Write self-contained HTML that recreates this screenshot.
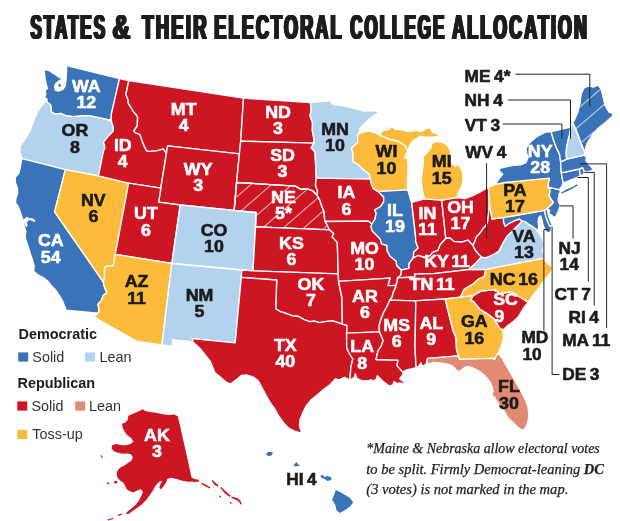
<!DOCTYPE html>
<html><head><meta charset="utf-8"><title>States &amp; their Electoral College allocation</title>
<style>
html,body{margin:0;padding:0;background:#fff;}
body{width:620px;height:521px;overflow:hidden;font-family:"Liberation Sans",sans-serif;}
svg{display:block}
.st path{stroke:#fff;stroke-width:1.35;stroke-linejoin:round}
.lb{font-family:"Liberation Sans",sans-serif;font-weight:bold;font-size:16.5px;text-anchor:middle}
.lb text{transform-box:fill-box;transform-origin:center;transform:scaleX(1.08);word-spacing:-2.2px;stroke-width:0.55px;stroke-linejoin:round}
.lbs text{transform-origin:left;transform:scaleX(1.05);word-spacing:-1.2px}
.w{fill:#fff;stroke:#fff}.k{fill:#1c1a1a;stroke:#1c1a1a}
</style></head><body>
<svg width="620" height="521" viewBox="0 0 620 521">
<defs>
<filter id="embolden" x="-2%" y="-10%" width="104%" height="120%">
<feOffset in="SourceGraphic" dx="-1.3" result="a"/><feOffset in="SourceGraphic" dx="-0.65" result="b"/><feOffset in="SourceGraphic" dx="0.65" result="c"/><feOffset in="SourceGraphic" dx="1.3" result="d"/>
<feMerge><feMergeNode in="a"/><feMergeNode in="b"/><feMergeNode in="SourceGraphic"/><feMergeNode in="c"/><feMergeNode in="d"/></feMerge></filter>
<pattern id="hNE" width="13.5" height="20" patternUnits="userSpaceOnUse" patternTransform="translate(240.5,210.8) rotate(49)"><line x1="0.5" y1="-1" x2="0.5" y2="21" stroke="#fff" stroke-opacity="0.8" stroke-width="0.9"/></pattern>
<pattern id="hME" width="14" height="20" patternUnits="userSpaceOnUse" patternTransform="translate(576.7,127.4) rotate(49.4)"><line x1="0.5" y1="-1" x2="0.5" y2="21" stroke="#fff" stroke-opacity="0.8" stroke-width="0.9"/></pattern>
</defs>
<rect width="620" height="521" fill="#fff"/>
<g class="st">
<path id="WA" d="M66.6,65.5L66.6,69.8L66.3,75.2L66.0,80.5L65.2,86.2L62.9,89.4L58.5,91.0L55.3,90.0L54.5,87.0L55.8,83.5L59.3,80.8L62.7,78.9L58.9,77.2L54.2,73.8L48.8,70.5L44.1,69.1L44.5,73.8L45.1,79.2L46.1,83.9L47.5,88.6L45.1,90.6L45.9,94.0L44.5,97.4L46.8,99.1L46.8,102.1L50.4,104.5L51.3,108.8L50.9,111.7L55.1,114.2L60.7,113.4L66.5,116.0L73.9,116.6L83.9,115.6L90.2,115.9L111.2,120.5L111.3,114.4L119.5,78.6L66.6,65.5Z" fill="#3b73b9"/>
<path id="OR" d="M46.8,99.1L46.8,102.1L50.4,104.5L51.3,108.8L50.9,111.7L55.1,114.2L60.7,113.4L66.5,116.0L73.9,116.6L83.9,115.6L90.2,115.9L111.2,120.5L113.2,126.7L113.3,131.1L108.6,135.9L103.5,142.1L104.5,145.2L104.8,148.9L103.5,150.8L98.4,175.8L65.3,169.6L21.8,158.6L19.9,152.3L20.3,145.8L25.4,138.7L29.9,130.9L34.1,120.0L38.2,110.6L46.8,99.1Z" fill="#b3d2ee"/>
<path id="CA" d="M21.8,158.6L65.3,169.6L54.6,211.8L103.2,281.8L104.8,288.0L106.9,292.8L103.4,295.1L101.2,300.6L97.9,304.4L99.2,310.6L97.9,313.1L66.2,310.2L64.3,305.4L62.4,300.6L59.5,295.8L55.7,290.1L51.8,286.2L48.0,281.4L43.2,277.6L37.4,274.7L33.6,270.9L34.2,266.1L32.6,260.3L30.7,254.6L28.8,248.8L26.9,243.0L25.0,237.3L25.9,231.5L24.0,225.8L23.9,221.2L22.2,217.8L20.2,211.8L18.2,206.4L15.5,203.0L15.9,198.3L17.7,193.6L17.5,188.2L15.5,182.9L15.1,177.5L18.8,173.4L20.2,168.1L21.5,160.0L21.8,158.6Z" fill="#3b73b9"/>
<path id="NV" d="M65.3,169.6L98.4,175.8L128.6,183.2L115.3,254.4L113.2,265.9L109.0,265.8L104.7,266.9L104.5,271.7L104.4,279.1L103.2,281.8L54.6,211.8L65.3,169.6Z" fill="#fcbb3a"/>
<path id="ID" d="M119.5,78.6L111.3,114.4L111.2,120.5L113.2,126.7L113.3,131.1L108.6,135.9L103.5,142.1L104.5,145.2L104.8,148.9L103.5,150.8L98.4,175.8L128.6,183.2L160.8,188.1L166.4,153.3L163.4,148.8L156.8,150.6L148.2,151.4L146.3,150.3L142.9,143.1L139.9,134.4L135.5,132.8L133.8,131.0L137.3,125.9L137.6,116.5L133.9,112.1L128.5,103.7L127.9,99.2L125.8,94.5L128.8,80.6L119.5,78.6Z" fill="#cc1624"/>
<path id="MT" d="M128.8,80.6L125.8,94.5L127.9,99.2L128.5,103.7L133.9,112.1L137.6,116.5L137.3,125.9L133.8,131.0L135.5,132.8L139.9,134.4L142.9,143.1L146.3,150.3L148.2,151.4L156.8,150.6L163.4,148.8L166.4,153.3L167.6,145.8L239.4,153.8L240.7,141.1L243.5,98.2L128.8,80.6Z" fill="#cc1624"/>
<path id="WY" d="M167.6,145.8L239.4,153.8L236.6,182.5L234.2,210.4L180.2,205.0L158.7,202.2L160.8,188.1L166.4,153.3L167.6,145.8Z" fill="#cc1624"/>
<path id="UT" d="M128.6,183.2L160.8,188.1L158.7,202.2L180.2,205.0L171.8,263.5L115.3,254.4L128.6,183.2Z" fill="#cc1624"/>
<path id="AZ" d="M115.3,254.4L171.8,263.5L161.9,344.8L137.0,341.3L94.1,317.0L97.9,313.1L99.2,310.6L97.9,304.4L101.2,300.6L103.4,295.1L106.9,292.8L104.8,288.0L103.2,281.8L104.4,279.1L104.5,271.7L104.7,266.9L109.0,265.8L113.2,265.9L115.3,254.4Z" fill="#fcbb3a"/>
<path id="CO" d="M180.2,205.0L234.2,210.4L256.3,212.5L255.5,226.9L253.0,270.9L241.9,270.0L171.8,263.5L180.2,205.0Z" fill="#b3d2ee"/>
<path id="NM" d="M171.8,263.5L241.9,270.0L241.3,277.4L235.2,342.9L192.3,338.7L193.0,342.0L172.8,339.7L172.0,346.1L161.9,344.8L171.8,263.5Z" fill="#b3d2ee"/>
<path id="ND" d="M243.5,98.2L310.4,102.6L311.2,109.3L310.1,115.9L312.5,122.5L312.3,130.4L313.8,138.4L314.0,143.2L240.7,141.1L243.5,98.2Z" fill="#cc1624"/>
<path id="SD" d="M240.7,141.1L314.0,143.2L311.1,147.8L315.1,152.0L316.2,178.2L315.5,185.0L317.5,191.1L317.3,195.5L312.7,191.0L307.3,188.7L301.0,189.5L295.5,186.1L236.6,182.5L239.4,153.8L240.7,141.1Z" fill="#cc1624"/>
<path id="NE" d="M236.6,182.5L295.5,186.1L301.0,189.5L307.3,188.7L312.7,191.0L317.3,195.5L319.7,199.8L322.0,206.7L324.2,212.0L324.6,218.6L325.3,221.5L327.3,225.5L329.5,229.8L255.5,226.9L256.3,212.5L234.2,210.4L236.6,182.5Z" fill="#cc1624"/>
<path d="M236.6,182.5L295.5,186.1L301.0,189.5L307.3,188.7L312.7,191.0L317.3,195.5L319.7,199.8L322.0,206.7L324.2,212.0L324.6,218.6L325.3,221.5L327.3,225.5L329.5,229.8L255.5,226.9L256.3,212.5L234.2,210.4L236.6,182.5Z" fill="url(#hNE)" stroke="none"/>
<path id="KS" d="M255.5,226.9L329.5,229.8L333.8,233.4L332.2,236.9L337.3,242.4L338.2,273.9L253.0,270.9L255.5,226.9Z" fill="#cc1624"/>
<path id="OK" d="M253.0,270.9L338.2,273.9L338.6,281.4L341.9,297.8L342.4,324.2L332.8,320.8L326.8,321.3L319.5,322.7L314.6,321.1L309.7,321.7L303.6,319.3L298.7,316.5L292.6,315.8L285.3,313.2L280.5,311.7L275.7,308.7L276.7,280.0L241.3,277.4L241.9,270.0L253.0,270.9Z" fill="#cc1624"/>
<path id="TX" d="M241.3,277.4L276.7,280.0L275.7,308.7L280.5,311.7L285.3,313.2L292.6,315.8L298.7,316.5L303.6,319.3L309.7,321.7L314.6,321.1L319.5,322.7L326.8,321.3L332.8,320.8L342.4,324.2L347.1,325.3L346.6,333.1L346.7,347.5L349.0,353.0L352.8,359.0L350.9,366.8L350.4,373.9L349.7,380.1L344.5,377.3L339.4,379.9L335.5,378.8L330.3,384.5L323.9,389.2L317.4,394.8L311.0,400.0L305.8,406.5L302.7,412.9L300.1,419.4L299.4,425.8L301.9,433.5L295.5,431.5L289.0,428.4L283.9,423.2L278.7,416.0L274.8,409.0L270.2,402.6L265.8,394.8L261.9,387.6L258.1,380.6L252.9,376.8L246.5,375.0L241.3,375.5L236.1,379.9L230.5,384.0L225.8,381.9L220.6,377.3L215.0,372.9L212.4,366.5L210.3,361.3L205.2,354.8L200.0,348.4L193.0,342.0L192.3,338.7L235.2,342.9L241.3,277.4Z" fill="#cc1624"/>
<path id="MN" d="M310.4,102.6L317.7,101.9L326.8,101.2L329.4,100.1L333.2,104.5L343.5,105.8L353.9,108.4L364.2,111.0L373.2,110.5L379.7,112.3L373.2,116.1L366.8,121.3L360.3,127.7L358.5,133.8L357.6,134.8L357.7,142.6L351.5,148.0L353.2,153.7L352.9,161.5L358.3,164.5L363.2,169.5L369.3,174.3L370.6,179.1L316.2,178.2L315.1,152.0L311.1,147.8L314.0,143.2L313.8,138.4L312.3,130.4L312.5,122.5L310.1,115.9L311.2,109.3L310.4,102.6Z" fill="#b3d2ee"/>
<path id="IA" d="M316.2,178.2L370.6,179.1L371.4,184.3L373.5,188.7L378.3,191.6L383.8,197.2L383.6,201.8L380.7,206.5L374.5,210.1L376.2,213.0L375.0,219.2L371.8,224.2L368.5,221.1L325.3,221.5L324.6,218.6L324.2,212.0L322.0,206.7L319.7,199.8L317.3,195.5L317.5,191.1L315.5,185.0L316.2,178.2Z" fill="#cc1624"/>
<path id="MO" d="M325.3,221.5L368.5,221.1L371.8,224.2L371.0,226.9L372.4,231.1L380.1,238.9L381.6,243.9L386.9,245.4L387.3,250.9L390.1,256.2L396.3,261.3L396.7,265.6L401.4,270.0L400.9,275.2L397.5,277.8L397.3,281.6L395.8,285.4L387.9,285.6L390.0,278.1L338.6,281.4L338.2,273.9L337.3,242.4L332.2,236.9L333.8,233.4L329.5,229.8L327.3,225.5L325.3,221.5Z" fill="#cc1624"/>
<path id="AR" d="M338.6,281.4L390.0,278.1L387.9,285.6L395.8,285.4L395.9,286.9L393.4,292.0L392.0,297.2L389.8,300.2L387.0,306.5L383.4,313.0L380.9,319.4L379.1,325.7L379.5,331.8L346.6,333.1L347.1,325.3L342.4,324.2L341.9,297.8L338.6,281.4Z" fill="#cc1624"/>
<path id="LA" d="M346.6,333.1L379.5,331.8L383.2,340.5L381.2,346.0L378.1,350.8L377.2,354.1L376.0,359.5L397.9,360.2L397.1,365.6L402.6,371.9L403.5,372.9L402.0,375.8L399.7,378.7L403.2,381.6L404.5,384.9L400.6,383.0L396.8,383.5L393.9,381.6L392.9,384.9L389.0,386.1L386.1,383.5L383.2,381.6L380.3,378.7L377.4,375.8L376.4,378.7L373.5,381.6L371.6,379.7L367.7,381.0L361.9,380.6L357.1,378.7L355.2,373.9L354.2,377.7L349.7,380.1L350.4,373.9L350.9,366.8L352.8,359.0L349.0,353.0L346.7,347.5L346.6,333.1Z" fill="#cc1624"/>
<path id="WI" d="M358.5,133.8L368.4,130.9L375.2,132.8L380.0,135.2L388.7,139.0L398.4,141.4L405.2,145.8L408.1,151.0L405.7,154.9L404.6,158.4L407.3,157.6L407.9,162.3L408.1,173.9L407.1,183.5L407.7,189.8L378.3,191.6L373.5,188.7L371.4,184.3L370.6,179.1L369.3,174.3L363.2,169.5L358.3,164.5L352.9,161.5L353.2,153.7L351.5,148.0L357.7,142.6L357.6,134.8L358.5,133.8Z" fill="#fcbb3a"/>
<path id="IL" d="M378.3,191.6L407.7,189.8L410.7,200.1L411.7,202.3L415.6,236.4L415.7,241.2L418.1,248.0L413.7,252.2L413.3,257.8L409.1,263.5L408.9,268.4L401.4,270.0L396.7,265.6L396.3,261.3L390.1,256.2L387.3,250.9L386.9,245.4L381.6,243.9L380.1,238.9L372.4,231.1L371.0,226.9L371.8,224.2L375.0,219.2L376.2,213.0L374.5,210.1L380.7,206.5L383.6,201.8L383.8,197.2L378.3,191.6Z" fill="#3b73b9"/>
<path id="IN" d="M411.7,202.3L424.5,198.8L441.7,200.2L445.8,238.5L440.3,244.5L438.0,250.3L432.7,252.3L430.0,255.9L424.4,257.5L418.3,255.5L413.3,257.8L413.7,252.2L418.1,248.0L415.7,241.2L415.6,236.4L411.7,202.3Z" fill="#cc1624"/>
<path id="OH" d="M441.7,200.2L457.0,197.5L465.2,198.7L471.6,196.1L479.4,192.3L488.4,187.1L489.3,202.5L488.7,212.0L487.6,221.8L485.9,225.7L483.1,228.5L479.7,233.6L476.3,237.0L474.6,242.1L472.9,245.2L468.0,240.2L461.7,242.2L454.2,241.5L449.5,237.9L445.8,238.5L441.7,200.2Z" fill="#cc1624"/>
<path id="KY" d="M413.3,257.8L418.3,255.5L424.4,257.5L430.0,255.9L432.7,252.3L438.0,250.3L440.3,244.5L445.8,238.5L449.5,237.9L454.2,241.5L461.7,242.2L468.0,240.2L472.9,245.2L475.2,250.0L478.5,254.0L481.5,257.0L476.2,262.8L468.9,269.5L433.9,273.7L414.5,274.2L415.0,277.0L397.5,277.8L400.9,275.2L401.4,270.0L408.9,268.4L409.1,263.5L413.3,257.8Z" fill="#cc1624"/>
<path id="TN" d="M397.5,277.8L415.0,277.0L414.5,274.2L433.9,273.7L468.9,269.5L485.9,269.3L484.1,276.9L478.8,278.8L473.1,284.0L464.4,289.0L460.4,297.1L445.1,299.0L414.5,300.8L389.8,300.2L392.0,297.2L393.4,292.0L395.9,286.9L395.8,285.4L397.3,281.6L397.5,277.8Z" fill="#cc1624"/>
<path id="MS" d="M389.8,300.2L414.5,300.8L415.8,302.4L415.0,347.4L416.1,367.7L411.3,369.0L406.4,370.0L402.6,371.9L397.1,365.6L397.9,360.2L376.0,359.5L377.2,354.1L378.1,350.8L381.2,346.0L383.2,340.5L379.5,331.8L379.1,325.7L380.9,319.4L383.4,313.0L387.0,306.5L389.8,300.2Z" fill="#cc1624"/>
<path id="AL" d="M414.5,300.8L445.1,299.0L453.0,330.5L456.1,338.3L456.5,349.4L458.3,355.9L427.5,358.3L426.8,362.8L424.8,365.2L422.1,366.1L421.0,362.8L419.0,366.1L416.1,367.7L415.0,347.4L415.8,302.4L414.5,300.8Z" fill="#cc1624"/>
<path id="GA" d="M445.1,299.0L460.4,297.1L473.3,295.4L470.8,300.4L473.6,301.5L479.7,309.0L487.9,314.1L494.6,319.3L499.4,327.7L502.9,330.0L503.5,338.1L501.5,345.8L498.4,353.2L496.4,355.5L494.5,359.4L492.6,358.4L459.7,359.4L458.3,355.9L456.5,349.4L456.1,338.3L453.0,330.5L445.1,299.0Z" fill="#fcbb3a"/>
<path id="FL" d="M426.8,362.8L427.5,358.3L458.3,355.9L459.7,359.4L492.6,358.4L494.5,359.4L496.4,355.5L498.4,353.2L502.3,358.4L506.1,365.2L510.0,371.9L513.9,378.7L517.7,385.5L521.6,392.3L525.5,400.0L528.0,406.8L528.8,413.5L528.4,419.3L526.8,425.2L524.5,429.4L521.6,430.0L518.7,428.1L515.8,425.2L512.9,422.3L509.4,419.3L507.1,416.4L505.2,412.6L502.3,408.7L499.3,404.8L496.4,401.0L494.5,397.1L491.6,395.2L493.2,391.3L492.0,386.4L489.7,381.6L486.8,377.7L482.9,373.9L478.1,370.6L473.2,368.1L469.4,366.7L465.5,367.1L462.6,369.0L459.7,371.4L456.8,371.0L454.8,368.1L451.0,365.2L445.2,363.6L439.4,362.8L433.5,362.3L429.3,364.2L426.8,362.8Z" fill="#e18a74"/>
<path id="SC" d="M473.3,295.4L480.8,291.2L495.1,289.6L495.3,291.0L496.5,290.1L498.8,293.7L511.6,291.7L528.1,302.3L524.2,307.1L521.3,311.9L518.4,316.8L514.5,320.6L510.6,323.5L506.8,326.4L502.9,330.0L499.4,327.7L494.6,319.3L487.9,314.1L479.7,309.0L473.6,301.5L470.8,300.4L473.3,295.4Z" fill="#cc1624"/>
<path id="NC" d="M544.3,258.1L485.9,269.3L484.1,276.9L478.8,278.8L473.1,284.0L464.4,289.0L460.4,297.1L473.3,295.4L480.8,291.2L495.1,289.6L495.3,291.0L496.5,290.1L498.8,293.7L511.6,291.7L528.1,302.3L532.3,296.0L537.8,289.5L543.5,281.5L546.5,277.4L550.6,272.6L552.6,266.8L547.7,263.9L544.8,260.4L544.3,258.1Z" fill="#fcbb3a"/>
<path id="VA" d="M544.3,258.1L485.9,269.3L468.9,269.5L476.2,262.8L481.5,257.0L485.3,257.9L489.8,256.2L494.4,254.0L498.9,251.1L501.1,246.6L504.0,241.0L506.8,236.5L510.2,233.1L514.7,228.5L518.1,225.2L522.2,220.8L525.7,221.8L528.6,224.2L533.4,227.1L536.3,229.5L537.4,231.5L539.0,232.9L542.3,238.7L544.3,244.9L542.3,250.7L544.8,255.2L544.3,258.1Z" fill="#b3d2ee"/>
<path id="WV" d="M489.3,202.5L492.0,219.0L503.9,217.4L503.4,221.2L505.1,226.3L509.0,223.5L514.7,220.6L519.2,219.0L522.2,220.8L518.1,225.2L514.7,228.5L510.2,233.1L506.8,236.5L504.0,241.0L501.1,246.6L498.9,251.1L494.4,254.0L489.8,256.2L485.3,257.9L481.5,257.0L478.5,254.0L475.2,250.0L472.9,245.2L474.6,242.1L476.3,237.0L479.7,233.6L483.1,228.5L485.9,225.7L487.6,221.8L488.7,212.0L489.3,202.5Z" fill="#cc1624"/>
<path id="MD" d="M503.9,217.4L544.5,210.4L545.8,216.5L547.7,221.6L549.7,226.1L552.3,225.5L551.6,227.4L551.0,231.3L548.4,233.2L545.8,231.3L543.9,227.4L542.6,223.5L541.9,219.0L540.6,215.8L538.7,217.7L538.1,222.3L538.7,227.4L537.4,231.5L536.3,229.5L533.4,227.1L528.6,224.2L525.7,221.8L522.2,220.8L519.2,219.0L514.7,220.6L509.0,223.5L505.1,226.3L503.4,221.2L503.9,217.4Z" fill="#3b73b9"/>
<path id="DE" d="M552.3,225.5L549.7,226.1L547.7,221.6L545.8,216.5L544.5,210.4L547.5,208.3L548.0,213.9L549.0,217.7L551.0,222.3L552.3,225.5Z" fill="#3b73b9"/>
<path id="PA" d="M495.4,184.4L488.4,187.1L489.3,202.5L492.0,219.0L503.9,217.4L544.5,210.4L547.5,208.3L551.6,204.8L553.5,202.3L551.0,199.0L549.0,195.2L550.3,191.3L548.4,187.1L548.4,183.7L549.5,178.2L504.8,182.5L495.4,184.4Z" fill="#fcbb3a"/>
<path id="NJ" d="M548.4,187.1L559.1,189.7L560.6,191.0L558.7,195.2L558.1,200.3L560.0,205.5L558.7,210.6L556.1,215.8L554.8,217.7L551.6,215.2L548.8,213.5L549.7,210.6L547.5,208.3L551.6,204.8L553.5,202.3L551.0,199.0L549.0,195.2L550.3,191.3L548.4,187.1Z" fill="#3b73b9"/>
<path id="NY" d="M495.4,184.4L499.0,178.6L502.7,174.3L499.8,171.4L499.0,168.5L504.8,167.0L512.1,165.6L520.8,164.8L525.9,162.7L528.1,157.6L526.6,153.2L525.9,148.9L528.1,144.5L532.4,140.2L538.2,135.8L545.5,132.2L551.2,131.6L553.3,139.6L556.5,148.1L559.6,154.4L560.6,161.8L561.3,172.9L563.2,183.2L561.5,187.0L559.1,189.7L548.4,187.1L548.4,183.7L549.5,178.2L504.8,182.5L495.4,184.4Z" fill="#3b73b9"/>
<path id="CT" d="M561.3,172.9L579.4,169.0L580.3,175.5L577.4,177.4L571.0,180.0L563.2,183.2L561.3,172.9Z" fill="#3b73b9"/>
<path id="RI" d="M579.4,169.0L582.6,167.7L583.9,171.0L583.2,174.8L580.3,175.5L579.4,169.0Z" fill="#3b73b9"/>
<path id="MA" d="M560.6,161.8L566.7,159.1L584.3,155.2L586.5,157.4L585.8,160.6L588.4,163.9L591.0,166.5L592.9,169.0L596.8,167.7L598.0,167.9L592.9,170.2L589.7,171.2L586.5,171.8L583.9,171.0L582.6,167.7L579.4,169.0L561.3,172.9L560.6,161.8Z" fill="#3b73b9"/>
<path id="VT" d="M551.2,131.6L570.9,127.2L569.8,134.3L568.0,140.6L566.7,147.0L566.1,153.3L566.7,159.1L560.6,161.8L559.6,154.4L556.5,148.1L553.3,139.6L551.2,131.6Z" fill="#3b73b9"/>
<path id="NH" d="M570.9,127.2L572.7,122.5L575.1,128.0L577.7,134.3L580.4,141.7L583.0,148.0L584.9,152.3L584.3,155.2L566.7,159.1L566.1,153.3L566.7,147.0L568.0,140.6L569.8,134.3L570.9,127.2Z" fill="#b3d2ee"/>
<path id="ME" d="M572.7,122.5L574.5,119.6L577.6,112.2L579.7,103.8L581.2,93.2L583.9,87.9L588.1,85.8L593.4,86.9L597.6,84.8L600.8,87.9L602.9,95.3L605.0,104.8L609.2,112.2L613.5,113.3L612.4,117.5L608.2,120.7L604.0,124.9L599.8,127.0L596.6,131.2L593.4,133.3L590.3,138.6L587.1,143.9L585.0,151.3L584.9,152.3L583.0,148.0L580.4,141.7L577.7,134.3L575.1,128.0L572.7,122.5Z" fill="#3b73b9"/>
<path d="M572.7,122.5L574.5,119.6L577.6,112.2L579.7,103.8L581.2,93.2L583.9,87.9L588.1,85.8L593.4,86.9L597.6,84.8L600.8,87.9L602.9,95.3L605.0,104.8L609.2,112.2L613.5,113.3L612.4,117.5L608.2,120.7L604.0,124.9L599.8,127.0L596.6,131.2L593.4,133.3L590.3,138.6L587.1,143.9L585.0,151.3L584.9,152.3L583.0,148.0L580.4,141.7L577.7,134.3L575.1,128.0L572.7,122.5Z" fill="url(#hME)" stroke="none"/>
<path id="MI1" d="M424.5,198.8L422.6,191.3L421.2,181.6L422.0,171.9L423.5,163.2L423.2,156.4L426.4,153.5L430.3,148.7L432.3,142.9L437.1,141.4L442.9,142.5L447.7,145.8L450.6,151.6L449.7,158.4L451.6,163.2L455.5,166.1L458.4,164.2L461.9,170.0L463.2,177.7L462.3,185.5L458.4,192.3L457.0,197.5L441.7,200.2L424.5,198.8Z" fill="#fcbb3a"/>
<path id="MI2" d="M380.0,135.2L381.9,130.9L389.7,129.0L391.6,125.9L395.5,129.4L401.3,129.7L408.1,131.7L414.8,130.3L421.6,131.3L426.4,128.4L430.3,127.8L432.3,132.3L438.1,134.2L439.0,136.1L433.2,137.1L425.5,137.1L420.6,136.1L415.8,139.0L411.9,141.9L409.0,146.8L408.1,151.0L405.2,145.8L398.4,141.4L388.7,139.0L380.0,135.2Z" fill="#fcbb3a"/>
</g>
<path d="M128.3,415.8L131.3,414.4L137.1,412.1L142.9,409.3L145.2,411.1L149.9,412.1L155.7,412.8L161.5,413.9L168.4,415.1L174.2,414.4L177.7,416.2L180.0,425.5L183.1,439.4L186.3,453.4L189.3,467.3L191.6,477.7L197.4,480.0L200.0,481.4L192.8,481.4L188.2,481.7L182.4,480.7L176.6,478.9L170.8,477.7L167.3,478.9L166.1,482.4L163.8,486.3L160.8,489.3L159.2,487.7L160.8,483.5L162.2,480.7L159.2,481.7L155.7,485.4L152.9,490.5L149.9,495.1L145.9,500.2L141.8,504.4L137.1,507.9L132.5,510.9L129.0,513.7L125.5,514.2L127.4,511.8L131.3,508.6L136.0,504.4L139.4,499.8L141.8,495.1L142.9,491.6L140.6,489.3L137.1,490.5L133.6,492.3L130.2,491.6L126.7,489.3L125.1,485.8L123.2,482.4L120.4,480.7L117.4,477.7L116.7,473.1L118.1,469.6L120.9,467.3L124.4,465.4L127.8,463.1L131.3,460.8L132.9,457.5L131.3,454.5L127.8,453.4L123.2,453.8L119.0,452.9L114.4,451.5L111.6,448.7L112.1,445.2L116.2,444.1L122.0,445.2L126.7,445.2L131.3,443.6L133.6,441.3L131.3,438.3L127.4,435.3L124.4,431.3L122.7,427.4L122.0,423.7L125.1,422.7L127.8,419.7ZM113.9,481.2L116.7,480.7L117.6,483.1L114.8,483.8ZM107.0,482.4L109.3,482.6L109.3,484.2L107.2,484.0ZM100.7,454.8L102.1,455.7L102.8,458.5L101.6,458.0ZM117.4,515.1L121.3,513.5L122.3,514.6L118.6,516.0ZM107.0,519.7L112.8,517.9L113.9,518.8L108.4,520.6ZM192.7,480.3L199.2,479.5L198.4,481.6L193.5,482.3ZM201.6,482.7L205.6,484.4L210.5,487.6L209.7,488.5L204.8,486.1L201.3,484.0ZM212.1,479.5L214.5,481.9L218.5,485.2L217.7,486.8L214.2,484.4L211.8,481.1ZM221.0,486.8L225.8,491.6L230.6,495.6L229.8,496.9L225.0,493.4L220.6,488.2ZM231.5,496.5L237.1,498.1L240.3,500.5L241.9,504.2L240.6,504.5L238.7,501.5L235.5,499.5L231.5,497.9ZM219.4,495.6L221.0,496.0L221.0,497.4L219.5,497.3ZM229.8,502.1L231.5,502.3L231.5,503.7L230.0,503.5Z" fill="#cc1624"/>
<path d="M266.0,453.7L268.6,451.7L272.7,452.2L272.2,454.8L269.6,456.3L267.0,455.3ZM293.9,464.8L296.5,462.0L298.0,464.1L300.1,466.6L297.0,466.1L294.4,466.6ZM320.2,475.4L322.8,474.9L324.8,477.0L327.4,475.9L331.5,477.5L331.0,480.1L327.4,481.1L324.8,479.0L321.7,478.0ZM335.7,489.9L339.0,491.4L344.2,494.5L349.4,497.6L353.2,502.3L350.1,506.4L345.0,510.0L339.8,513.1L336.7,510.5L335.2,504.8L332.1,499.7L334.1,495.0Z" fill="#3b73b9"/>
<path d="M560.6,192.9L565.8,189.7L572.3,187.1L576.8,184.5L578.1,185.2L573.5,188.0L567.7,191.0L561.9,193.5Z" fill="#3b73b9"/>
<path d="M58.2,85.3L59.8,83.5L61.2,85.3L60.3,86.7L58.5,86.5Z" fill="#3b73b9"/>
<path d="M23.9,219.2L26.2,217.1L28.9,217.8L32.9,218.5L35.6,220.5L34.3,222.1L31.6,220.5L28.5,220.2L26.9,222.5L27.6,225.9L26.2,227.2L24.5,224.5L23.9,221.2Z" fill="#fff"/>
<polyline points="515.5,74.2 589.8,74.2 589.8,106.5" fill="none" stroke="#222" stroke-width="1"/>
<polyline points="507.7,100.0 570.5,100.0 570.5,138.7" fill="none" stroke="#222" stroke-width="1"/>
<polyline points="502.6,124.0 561.9,124.0 561.9,138.7" fill="none" stroke="#222" stroke-width="1"/>
<polyline points="486.6,163.2 486.6,238.7" fill="none" stroke="#222" stroke-width="1"/>
<polyline points="559.4,205.9 573.0,205.9 573.0,238.7" fill="none" stroke="#222" stroke-width="1"/>
<polyline points="548.5,229.5 543.9,229.5 543.9,330.6" fill="none" stroke="#222" stroke-width="1"/>
<polyline points="552.1,226.6 552.1,374.5 559.4,374.5" fill="none" stroke="#222" stroke-width="1"/>
<polyline points="577.4,177.5 588.3,177.5 588.3,281.6" fill="none" stroke="#222" stroke-width="1"/>
<polyline points="583.4,172.4 594.2,172.4 594.2,305.6" fill="none" stroke="#222" stroke-width="1"/>
<polyline points="580.0,163.9 606.6,163.9 606.6,328.0" fill="none" stroke="#222" stroke-width="1"/>
<g class="lb">
<text class="w" x="86.3" y="92">WA</text>
<text class="w" x="86.3" y="108.4">12</text>
<text class="k" x="75" y="136.3">OR</text>
<text class="k" x="75" y="152.70000000000002">8</text>
<text class="w" x="50.8" y="246.4">CA</text>
<text class="w" x="50.8" y="262.8">54</text>
<text class="k" x="93.4" y="206">NV</text>
<text class="k" x="93.4" y="222.4">6</text>
<text class="w" x="122.8" y="151">ID</text>
<text class="w" x="122.8" y="167.4">4</text>
<text class="w" x="183.7" y="115">MT</text>
<text class="w" x="183.7" y="131.4">4</text>
<text class="w" x="198.2" y="175">WY</text>
<text class="w" x="198.2" y="191.4">3</text>
<text class="w" x="146" y="219.5">UT</text>
<text class="w" x="146" y="235.9">6</text>
<text class="k" x="136.6" y="287.4">AZ</text>
<text class="k" x="136.6" y="303.79999999999995">11</text>
<text class="k" x="214" y="236">CO</text>
<text class="k" x="214" y="252.4">10</text>
<text class="k" x="199.5" y="300.8">NM</text>
<text class="k" x="199.5" y="317.2">5</text>
<text class="w" x="278" y="118">ND</text>
<text class="w" x="278" y="134.4">3</text>
<text class="w" x="282.5" y="161">SD</text>
<text class="w" x="282.5" y="177.4">3</text>
<text class="w" x="283.5" y="203">NE</text>
<text class="w" x="283.5" y="219.4">5*</text>
<text class="w" x="291.5" y="249">KS</text>
<text class="w" x="291.5" y="265.4">6</text>
<text class="w" x="311" y="290">OK</text>
<text class="w" x="311" y="306.4">7</text>
<text class="w" x="285.3" y="350.7">TX</text>
<text class="w" x="285.3" y="367.09999999999997">40</text>
<text class="k" x="335" y="134.7">MN</text>
<text class="k" x="335" y="151.1">10</text>
<text class="w" x="346.5" y="198.3">IA</text>
<text class="w" x="346.5" y="214.70000000000002">6</text>
<text class="w" x="364.5" y="254">MO</text>
<text class="w" x="364.5" y="270.4">10</text>
<text class="w" x="365" y="301.8">AR</text>
<text class="w" x="365" y="318.2">6</text>
<text class="w" x="362.2" y="352.5">LA</text>
<text class="w" x="362.2" y="368.9">8</text>
<text class="k" x="386.5" y="157.4">WI</text>
<text class="k" x="386.5" y="173.8">10</text>
<text class="w" x="395" y="216">IL</text>
<text class="w" x="395" y="232.4">19</text>
<text class="k" x="441.7" y="167.3">MI</text>
<text class="k" x="441.7" y="183.70000000000002">15</text>
<text class="w" x="427.5" y="219">IN</text>
<text class="w" x="427.5" y="235.4">11</text>
<text class="w" x="460.5" y="213">OH</text>
<text class="w" x="460.5" y="229.4">17</text>
<text class="w" x="447.1" y="267">KY 11</text>
<text class="w" x="432.2" y="290.2">TN 11</text>
<text class="w" x="396.7" y="330.6">MS</text>
<text class="w" x="396.7" y="347.0">6</text>
<text class="w" x="431.3" y="329">AL</text>
<text class="w" x="431.3" y="345.4">9</text>
<text class="k" x="474.3" y="327.5">GA</text>
<text class="k" x="474.3" y="343.9">16</text>
<text class="k" x="513.9" y="284.7">NC 16</text>
<text class="k" x="524" y="242">VA</text>
<text class="k" x="524" y="258.4">13</text>
<text class="k" x="515" y="195.6">PA</text>
<text class="k" x="515" y="212.0">17</text>
<text class="w" x="540.2" y="156.8">NY</text>
<text class="w" x="540.2" y="173.20000000000002">28</text>
<text class="k" x="509" y="392.3">FL</text>
<text class="k" x="509" y="408.7">30</text>
<text class="w" x="157" y="441.1">AK</text>
<text class="w" x="157" y="457.5">3</text>
<text class="w" x="505.6" y="305.2">SC</text><text class="w" x="499.4" y="321.6">9</text>
</g>
<g class="lb lbs" style="text-anchor:start">
<text class="k" x="464.6" y="81.9">ME 4*</text>
<text class="k" x="464.6" y="105.9">NH 4</text>
<text class="k" x="464.8" y="131">VT 3</text>
<text class="k" x="465.2" y="158">WV 4</text>
<text class="k" x="558.6" y="254.2">NJ</text>
<text class="k" x="559.6" y="270.5">14</text>
<text class="k" x="554.6" y="299.7">CT 7</text>
<text class="k" x="568.5" y="322.9">RI 4</text>
<text class="k" x="562.2" y="346.1">MA 11</text>
<text class="k" x="521.4" y="343.3">MD</text>
<text class="k" x="522.4" y="360">10</text>
<text class="k" x="562.2" y="380.5">DE 3</text>
<text class="k" x="286.2" y="484.7">HI 4</text>
</g>
<g id="title" font-family="Liberation Sans, sans-serif" font-weight="bold" font-size="35.3" fill="#1d1d1f" letter-spacing="4.2" filter="url(#embolden)">
<text x="30.50" y="39" textLength="76.5" lengthAdjust="spacingAndGlyphs">STATES</text>
<text x="112.60" y="39" textLength="20.6" lengthAdjust="spacingAndGlyphs">&amp;</text>
<text x="142.30" y="39" textLength="66.4" lengthAdjust="spacingAndGlyphs">THEIR</text>
<text x="214.30" y="39" textLength="129.4" lengthAdjust="spacingAndGlyphs">ELECTORAL</text>
<text x="350.30" y="39" textLength="95.9" lengthAdjust="spacingAndGlyphs">COLLEGE</text>
<text x="452.30" y="39" textLength="136.6" lengthAdjust="spacingAndGlyphs">ALLOCATION</text>
</g>
<g id="legend" font-family="Liberation Sans, sans-serif" font-size="14.4" fill="#333">
<text x="18.6" y="338.9" font-weight="bold" fill="#1d1d1f">Democratic</text>
<rect x="18.2" y="352.4" width="10" height="9.2" fill="#3b73b9"/><text x="32.3" y="361.6">Solid</text>
<rect x="85" y="352.4" width="10" height="9.2" fill="#b3d2ee"/><text x="99.4" y="361.6">Lean</text>
<text x="17.5" y="387.9" font-weight="bold" fill="#1d1d1f">Republican</text>
<rect x="17.3" y="401.4" width="10" height="9.2" fill="#cc1624"/><text x="31.5" y="410.6">Solid</text>
<rect x="75.2" y="401.4" width="10" height="9.2" fill="#e18a74"/><text x="89" y="410.6">Lean</text>
<rect x="17.3" y="429.8" width="10" height="9.2" fill="#fcbb3a"/><text x="32.3" y="439">Toss-up</text>
</g>
<g id="note" font-family="Liberation Serif, serif" font-style="italic" font-size="14.2" fill="#222" stroke="#222" stroke-width="0.25">
<text x="366.3" y="453" textLength="233.5" lengthAdjust="spacingAndGlyphs">*Maine &amp; Nebraska allow electoral votes</text>
<text x="366.3" y="474" textLength="237.7" lengthAdjust="spacingAndGlyphs">to be split. Firmly Democrat-leaning <tspan font-weight="bold">DC</tspan></text>
<text x="366.3" y="493.7" textLength="202" lengthAdjust="spacingAndGlyphs">(3 votes) is not marked in the map.</text>
</g>

</svg>
</body></html>
